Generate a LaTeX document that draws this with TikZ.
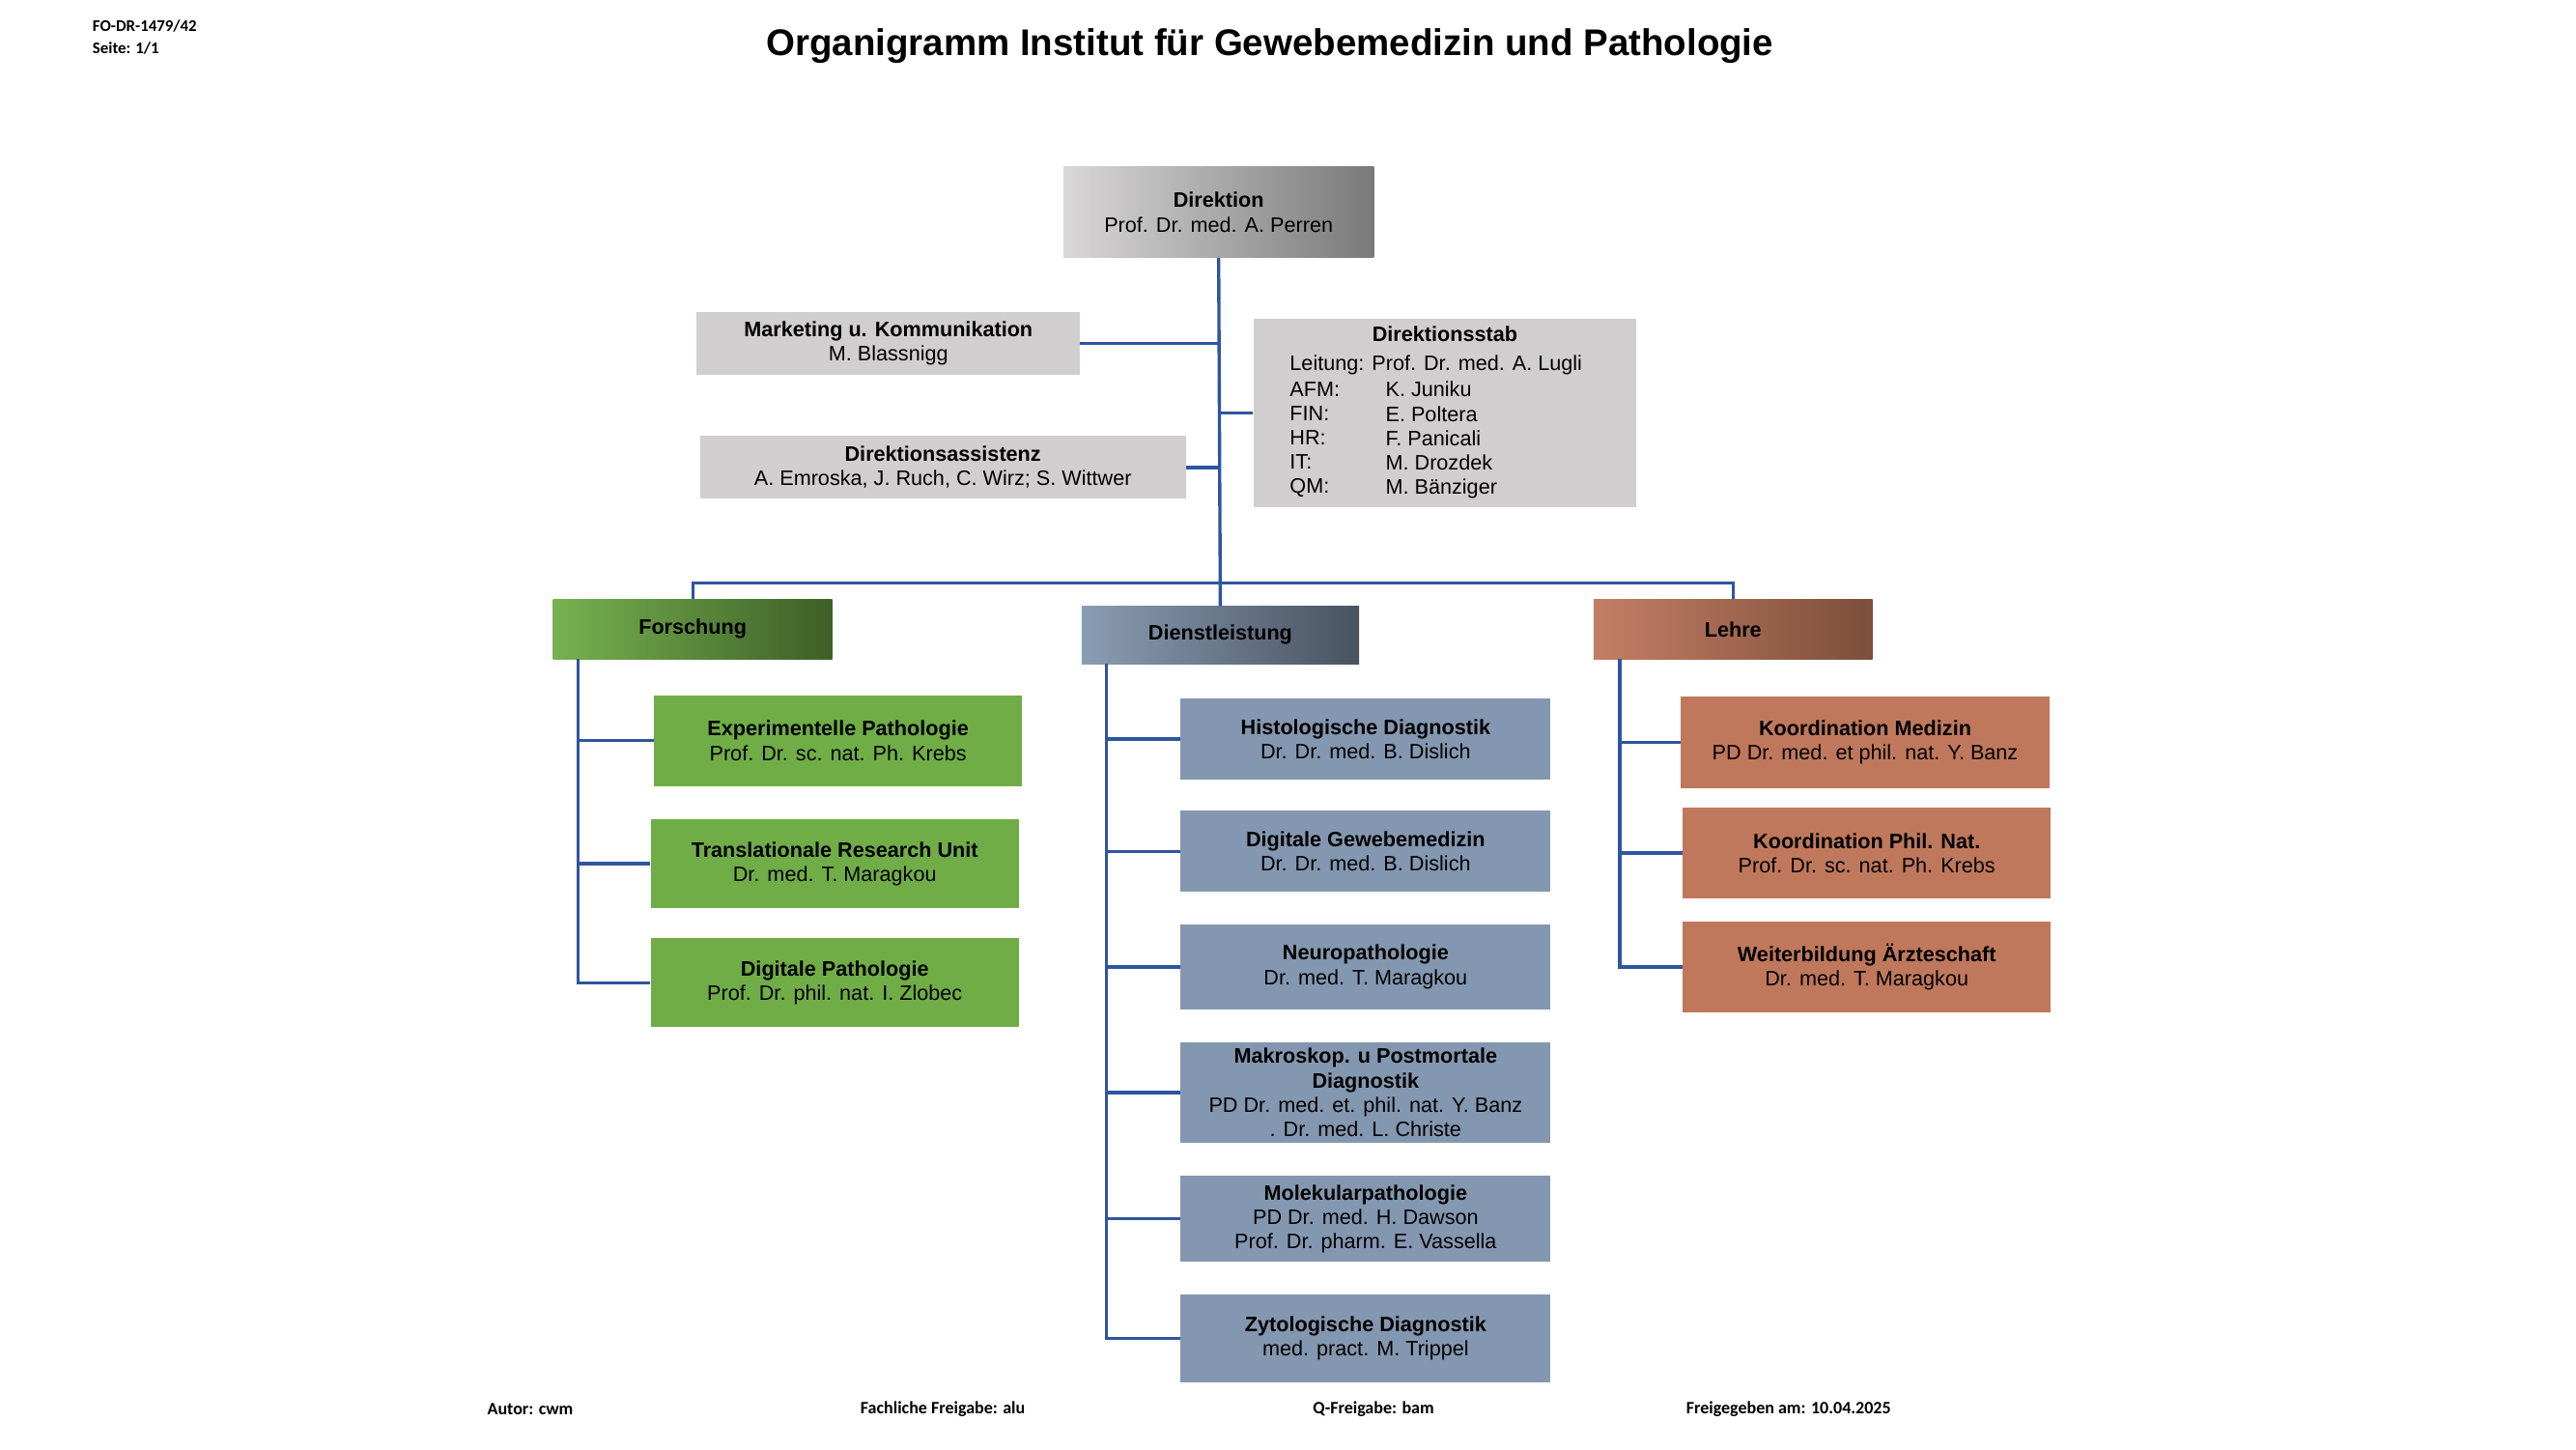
\documentclass[tikz,border=0pt]{standalone}
\usepackage{fontspec}
\setmainfont{Liberation Sans}
\newfontfamily\calfont{Carlito}
\definecolor{lnc}{HTML}{2F55A0}
\definecolor{grbox}{HTML}{D0CECE}
\definecolor{gnbox}{HTML}{70AD47}
\definecolor{blbox}{HTML}{8497B0}
\definecolor{brbox}{HTML}{C0785C}
\tikzset{
 bx/.style={inner sep=0pt,align=center,font=\fontsize{18}{21}\selectfont},
 grey/.style={bx,fill=grbox},
 green/.style={bx,fill=gnbox},
 blue/.style={bx,fill=blbox},
 brown/.style={bx,fill=brbox},
 conn/.style={draw=lnc,line width=2.8pt},
 foot/.style={font=\calfont\bfseries\fontsize{15}{18}\selectfont,anchor=west,inner sep=0pt}
}
\newcommand{\bx}[7]{\node[#6,minimum width={(#4-#2)*0.05cm},minimum height={(#5-#3)*0.05cm}] (#1) at ({(#2+#4)/2},{(#3+#5)/2}) {#7};}
\begin{document}
\begin{tikzpicture}[x=0.05cm,y=-0.05cm]
\useasboundingbox[fill=white] (0,0) rectangle (1560,877.5);
\node[anchor=north west,inner sep=0pt,align=left,font=\calfont\bfseries\fontsize{14}{19}\selectfont] (hdr) at (56,12) {FO-DR-1479/42\\Seite: 1/1};
\node[inner sep=0pt,font=\bfseries\fontsize{32}{36}\selectfont] (title) at (769,28) {Organigramm Institut für Gewebemedizin und Pathologie};
% top
\bx{dir}{644}{101}{832}{156}{bx,left color=grbox!80!white,right color=gray!95!black}{\textbf{Direktion}\\Prof. Dr. med. A. Perren}
\bx{mark}{422}{189}{654}{227}{grey}{\textbf{Marketing u. Kommunikation}\\M. Blassnigg}
\bx{assist}{424}{264}{718}{302}{grey}{\textbf{Direktionsassistenz}\\A. Emroska, J. Ruch, C. Wirz; S. Wittwer}
\bx{stab}{759}{193}{991}{307}{grey}{}
\node[bx] (stabt) at (875,202) {\textbf{Direktionsstab}};
\node[bx,anchor=north west,align=left] (stabl) at (781,215) {Leitung: Prof. Dr. med. A. Lugli};
\node[bx,anchor=north west,align=left] (stabk) at (781,231) {AFM:\\FIN:\\HR:\\IT:\\QM:};
\node[bx,anchor=north west,align=left] (stabv) at (839,231) {K. Juniku\\E. Poltera\\F. Panicali\\M. Drozdek\\M. Bänziger};
% categories
\bx{fo}{335}{363}{504}{399}{bx,left color=gnbox!95!white,right color=gnbox!55!black}{\textbf{Forschung}}
\bx{di}{655}{367}{823}{402}{bx,left color=blbox!95!white,right color=blbox!55!black}{\textbf{Dienstleistung}}
\bx{le}{965}{363}{1134}{399}{bx,left color=brbox!95!white,right color=brbox!65!black}{\textbf{Lehre}}
% Forschung children
\bx{f1}{396}{421}{619}{476}{green}{\textbf{Experimentelle Pathologie}\\Prof. Dr. sc. nat. Ph. Krebs}
\bx{f2}{394}{496}{617}{550}{green}{\textbf{Translationale Research Unit}\\Dr. med. T. Maragkou}
\bx{f3}{394}{568}{617}{622}{green}{\textbf{Digitale Pathologie}\\Prof. Dr. phil. nat. I. Zlobec}
% Dienst children
\bx{d1}{715}{423}{939}{472}{blue}{\textbf{Histologische Diagnostik}\\Dr. Dr. med. B. Dislich}
\bx{d2}{715}{491}{939}{540}{blue}{\textbf{Digitale Gewebemedizin}\\Dr. Dr. med. B. Dislich}
\bx{d3}{715}{560}{939}{611}{blue}{\textbf{Neuropathologie}\\Dr. med. T. Maragkou}
\bx{d4}{715}{631}{939}{692}{blue}{\textbf{Makroskop. u Postmortale}\\\textbf{Diagnostik}\\PD Dr. med. et. phil. nat. Y. Banz\\. Dr. med. L. Christe}
\bx{d5}{715}{712}{939}{764}{blue}{\textbf{Molekularpathologie}\\PD Dr. med. H. Dawson\\Prof. Dr. pharm. E. Vassella}
\bx{d6}{715}{784}{939}{837}{blue}{\textbf{Zytologische Diagnostik}\\med. pract. M. Trippel}
% Lehre children
\bx{l1}{1018}{422}{1241}{477}{brown}{\textbf{Koordination Medizin}\\PD Dr. med. et phil. nat. Y. Banz}
\bx{l2}{1019}{489}{1242}{544}{brown}{\textbf{Koordination Phil. Nat.}\\Prof. Dr. sc. nat. Ph. Krebs}
\bx{l3}{1019}{558}{1242}{613}{brown}{\textbf{Weiterbildung Ärzteschaft}\\Dr. med. T. Maragkou}
% connectors
\coordinate (busL) at (419.5,353);
\coordinate (busR) at (1049.5,353);
\coordinate (fT) at (350,399);
\coordinate (dT) at (670,402);
\coordinate (lT) at (981,399);
\draw[conn] (dir.south) -- (di.north);
\draw[conn] (mark.east) -- (mark.east -| dir.south);
\draw[conn] (assist.east) -- (assist.east -| dir.south);
\draw[conn] (stab.west) -- (stab.west -| dir.south);
\draw[conn] (fo.north) -- (busL) -- (busR) -- (le.north);
\draw[conn] (fT) |- (f3.west);
\draw[conn] (fT |- f1.west) -- (f1.west);
\draw[conn] (fT |- f2.west) -- (f2.west);
\draw[conn] (dT) |- (d6.west);
\foreach \n in {d1,d2,d3,d4,d5} \draw[conn] (dT |- \n.west) -- (\n.west);
\draw[conn] (lT) |- (l3.west);
\draw[conn] (lT |- l1.west) -- (l1.west);
\draw[conn] (lT |- l2.west) -- (l2.west);
% footer
\node[foot] (fa) at (295,853) {Autor: cwm};
\node[foot] (fb) at (521,853) {Fachliche Freigabe: alu};
\node[foot] (fc) at (795,853) {Q-Freigabe: bam};
\node[foot] (fd) at (1021,853) {Freigegeben am: 10.04.2025};
\end{tikzpicture}
\end{document}
